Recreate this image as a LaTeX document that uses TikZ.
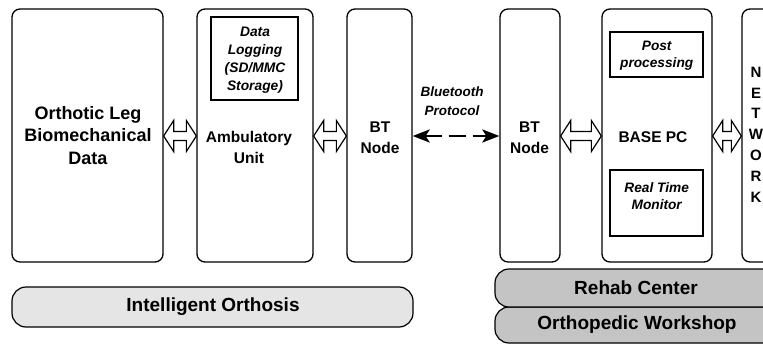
\documentclass[tikz,border=0pt]{standalone}
\usepackage{fontspec}
\setmainfont{Liberation Sans}
\usetikzlibrary{calc,arrows.meta}
\tikzset{
  bigbox/.style={draw, line width=1.3pt, rounded corners=8pt, inner sep=0pt, fill=white},
  innerbox/.style={draw, line width=1.2pt, inner sep=0pt, fill=white},
  pill/.style={draw, line width=1.2pt, rounded corners=14pt},
  lbl/.style={align=center, inner sep=0pt, font=\bfseries#1},
  ilbl/.style={align=center, inner sep=0pt, font=\bfseries\itshape#1},
  hollow/.style={draw, line width=1.2pt, fill=white, line join=miter},
}
\newcommand\hdarrow[3]{%
  \coordinate (hy) at (0,#3);
  \coordinate (hp) at (#1.east |- hy);
  \coordinate (hq) at (#2.west |- hy);
  \draw[hollow] (hp) -- ($(hp)+(10,-15.5)$) -- ($(hp)+(10,-4.5)$) -- ($(hq)+(-10,-4.5)$)
    -- ($(hq)+(-10,-15.5)$) -- (hq) -- ($(hq)+(-10,15.5)$) -- ($(hq)+(-10,4.5)$)
    -- ($(hp)+(10,4.5)$) -- ($(hp)+(10,15.5)$) -- cycle;}
\begin{document}
\begin{tikzpicture}[x=1pt,y=-1pt]
\useasboundingbox (0,0) rectangle (763,345);
% main boxes
\node[bigbox, minimum width=151pt, minimum height=253pt] (ol) at (87.5,135.5) {};
\node[bigbox, minimum width=116pt, minimum height=253pt] (au) at (255,135.5) {};
\node[bigbox, minimum width=65pt, minimum height=253pt] (bt1) at (379.5,135.5) {};
\node[bigbox, minimum width=60pt, minimum height=253pt] (bt2) at (530,135.5) {};
\node[bigbox, minimum width=110pt, minimum height=253pt] (pc) at (657,135.5) {};
\node[bigbox, minimum width=60pt, minimum height=253pt] (nw) at (772,135.5) {};
% inner boxes
\node[innerbox, minimum width=87pt, minimum height=83pt] (dl) at (254.5,58.5) {};
\node[innerbox, minimum width=93pt, minimum height=45pt] (pp) at (656.5,54.5) {};
\node[innerbox, minimum width=93pt, minimum height=66pt] (rt) at (656.5,203) {};
% texts
\node[lbl={\fontsize{18}{22.5}\selectfont}] (olt) at (88,135.5) {Orthotic Leg\\Biomechanical\\Data};
\node[lbl={\fontsize{15.5}{21}\selectfont}] (aut) at (249,147.5) {Ambulatory\\Unit};
\node[lbl={\fontsize{15.5}{21}\selectfont}] (bt1t) at (380,137.5) {BT\\Node};
\node[lbl={\fontsize{15.5}{21}\selectfont}] (bt2t) at (529.5,137.5) {BT\\Node};
\node[lbl={\fontsize{15.5}{21}\selectfont}] (pct) at (653,137) {BASE PC};
\node[ilbl={\fontsize{13.8}{18}\selectfont}] (dlt) at (255,60) {Data\\Logging\\(SD/MMC\\Storage)};
\node[ilbl={\fontsize{13.7}{17}\selectfont}] (ppt) at (656.7,55.5) {Post\\processing};
\node[ilbl={\fontsize{13.7}{17}\selectfont}] (rtt) at (656.7,196.5) {Real Time\\Monitor};
\node[ilbl={\fontsize{13.5}{19}\selectfont}] (blt) at (452,101.5) {Bluetooth\\Protocol};
\node[lbl={\fontsize{15}{20.83}\selectfont}] (nwt) at (756,134.5) {N\\E\\T\\W\\O\\R\\K};
% hollow double arrows
\hdarrow{ol}{au}{136}
\hdarrow{au}{bt1}{136}
\hdarrow{bt2}{pc}{136}
\hdarrow{pc}{nw}{136}
% bluetooth dashed arrow
\coordinate (by) at (0,136);
\draw[line width=2.8pt, dash pattern=on 17pt off 7pt,
  {Stealth[length=17pt,width=13pt,inset=4pt]}-{Stealth[length=17pt,width=13pt,inset=4pt]}]
  (bt1.east |- by) -- (bt2.west |- by);
% bottom labels
\draw[pill, fill=black!10] (12,287) rectangle (413,327);
\node[lbl={\fontsize{19}{22}\selectfont}] (io) at (213,307) {Intelligent Orthosis};
\draw[pill, fill=black!23] (495,307) rectangle (790,343);
\draw[pill, fill=black!23] (495,269) rectangle (790,307);
\node[lbl={\fontsize{19}{22}\selectfont}] (rc) at (636,288) {Rehab Center};
\node[lbl={\fontsize{19}{22}\selectfont}] (ow) at (637,325) {Orthopedic Workshop};
\end{tikzpicture}
\end{document}
